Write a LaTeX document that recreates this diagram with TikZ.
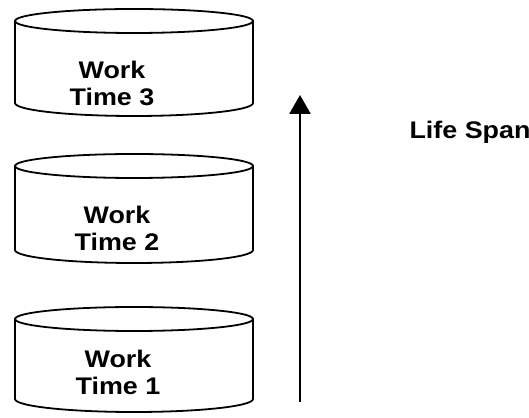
\documentclass[tikz,border=0pt]{standalone}
\usepackage{fontspec}
\setmainfont{Liberation Sans}
\newfontfamily\labelfont[FakeStretch=1.12]{Liberation Sans}
\usepackage{tikz}
\usetikzlibrary{arrows.meta, positioning}

\tikzset{
  drum/.style={line width=1.8pt},
  worklabel/.style={align=center, font=\labelfont\fontsize{24}{27}\selectfont\bfseries},
}

\begin{document}
\begin{tikzpicture}[x=1pt, y=1pt]
  \useasboundingbox (0,0) rectangle (529,417);
  % Cylinders
  \foreach \n/\yt/\yb/\yl/\xl in {3/396/314/334/112, 2/251/167/189/117, 1/98/18/45/118} {
    \draw[drum] (134,\yt) ellipse [x radius=119, y radius=12];
    \draw[drum] (15,\yt) -- (15,\yb) arc[start angle=180, end angle=360, x radius=119, y radius=13] -- (253,\yt);
    \node[worklabel] (work\n) at (\xl,\yl) {Work\\Time \n};
  }
  % Arrow
  \coordinate (tail) at (300,15);
  \coordinate (head) at (300,322);
  \draw[line width=2.5pt, -{Triangle[length=19pt, width=21pt]}] (tail) -- (head);
  \node[worklabel, anchor=west] (span) at (406,285) {Life Span};
\end{tikzpicture}
\end{document}
